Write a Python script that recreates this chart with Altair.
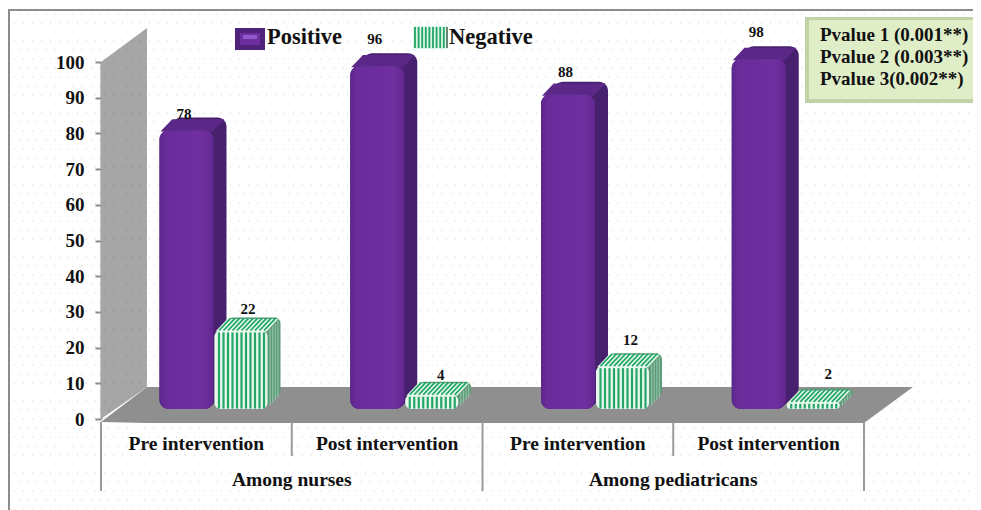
import altair as alt
import numpy as np
import pandas as pd

# ---- data ----
categories = ["Pre intervention", "Post intervention", "Pre intervention", "Post intervention"]
groups = ["Among nurses", "Among pediatricans"]
positive = [78, 96, 88, 98]
negative = [22, 4, 12, 2]
pvalues = ["Pvalue 1 (0.001**)", "Pvalue 2 (0.003**)", "Pvalue 3(0.002**)"]
y_ticks = list(range(0, 101, 10))
legend_names = ["Positive", "Negative"]

# ---- layout helpers (plot area: x 101..864, y 62..419 on the page) ----
L, T, W, H = 101, 62, 763, 357
UX, UY = W / 4, H / 100
px = lambda p: (p - L) / UX
py = lambda p: (T + H - p) / UY
BASE = 10 / UY          # bars stand in front of the wall
DX, DY = 13 / UX, 13 / UY
SERIF = "Liberation Serif"
sx = alt.Scale(domain=[0, 4], nice=False, zero=False)
sy = alt.Scale(domain=[0, 100], nice=False, zero=False)
yaxis = alt.Axis(
    values=y_ticks, labelFont=SERIF, labelFontWeight="bold", labelFontSize=19, labelColor="#111111",
    tickColor="#8c8c8c", tickSize=6, tickWidth=2, domainColor="#8c8c8c", domainWidth=2,
    labelPadding=11, grid=False, title=None)
X = alt.X("x:Q", scale=sx, axis=None)
Y = alt.Y("y:Q", scale=sy, axis=yaxis, stack=None)
X2 = alt.X2("x2:Q")
Y2 = alt.Y2("y2:Q")


def rect(rows, **kw):
    return alt.Chart(pd.DataFrame(rows)).mark_rect(**kw).encode(x=X, x2=X2, y=Y, y2=Y2)


def box(x0, x1, y0, y1, color, **kw):
    return rect([dict(x=px(x0), x2=px(x1), y=py(y0), y2=py(y1))], color=color, **kw)


def area(rows, color):
    return alt.Chart(pd.DataFrame(rows)).mark_area(color=color, interpolate="linear", opacity=1).encode(
        x=X, y=Y, y2=Y2)


def rules(rows, color, width):
    return alt.Chart(pd.DataFrame(rows)).mark_rule(color=color, strokeWidth=width).encode(
        x=X, x2=X2, y=Y, y2=Y2)


def label(rows, size, align="center", color="#111111"):
    return alt.Chart(pd.DataFrame(rows)).mark_text(
        font=SERIF, fontWeight="bold", fontSize=size, align=align, baseline="alphabetic", color=color
    ).encode(x=X, y=Y, text="t:N")


def grad(stops):
    return alt.Gradient(gradient="linear", x1=0, x2=1, y1=0, y2=0,
                        stops=[alt.GradientStop(offset=o, color=c) for o, c in stops])


def top_face(x0, x1, yf, dx, dy):
    yb = yf + dy
    return [
        dict(x=x0, y=yf, y2=yf),
        dict(x=x0 + dx, y=yb, y2=yf),
        dict(x=x1, y=yb, y2=yf),
        dict(x=x1 + dx, y=yb, y2=yb),
    ]


def bars(values, start, width, side, top, front, radius):
    ext, fr, tops = [], [], []
    for i, v in enumerate(values):
        x0, x1 = i + start, i + start + width
        for s in range(0, 14):
            f = s / 13
            ext.append(dict(x=x0 + f * DX, x2=x1 + f * DX, y=v + BASE + f * DY, y2=BASE + f * DY))
        fr.append(dict(x=x0, x2=x1, y=v + BASE, y2=BASE))
        tops.append(area(top_face(x0 + 1 / UX, x1 - 1 / UX, v + BASE - 1 / UY, DX * 0.9, DY * 0.95), top))
    return [rect(ext, color=side, cornerRadius=radius)] + tops + [rect(fr, color=front, cornerRadius=radius)]


layers = []

# left wall
wall = [
    dict(x=0, y=100, y2=0),
    dict(x=px(147), y=py(28), y2=py(387)),
]
layers.append(area(wall, "#a6a6a6"))

# paper dots
gx, gy = np.meshgrid(np.arange(10, 981, 9.0), np.arange(14, 510, 9.0))
gx = gx + (np.arange(gx.shape[0]).reshape(-1, 1) % 2) * 4.5
dots = pd.DataFrame({"x": px(gx.ravel()), "y": py(gy.ravel())})
layers.append(alt.Chart(dots).mark_circle(size=2.2, color="#000000", opacity=0.13).encode(x=X, y=Y))

# floor
floor = [
    dict(x=px(101), y=py(422), y2=py(422)),
    dict(x=px(147), y=py(387), y2=py(423)),
    dict(x=px(864), y=py(387), y2=py(423)),
    dict(x=px(913), y=py(387), y2=py(387)),
]
layers.append(area(floor, "#8f8f8f"))

# frame
layers.append(rules([dict(x=px(8), x2=px(981), y=py(10), y2=py(10)),
                     dict(x=px(9), x2=px(9), y=py(10), y2=py(510))], "#8c8c8c", 2))
# category separators
sep = []
for i in range(5):
    bottom = 491 if i % 2 == 0 else 456
    sep.append(dict(x=i, x2=i, y=py(422), y2=py(bottom)))
layers.append(rules(sep, "#9a9a9a", 2))

# Positive bars
p_start, p_w = 58.5 / UX, 54 / UX
purple = grad([(0, "#5c268c"), (0.12, "#6a2c9a"), (0.8, "#7030a0"), (1, "#612790")])
layers += bars(positive, p_start, p_w, "#47206e", "#5b2888", purple, 9)

# Negative bars
n_start, n_w = 113.5 / UX, 53 / UX
layers += bars(negative, n_start, n_w, "#5d9c79", "#e2f5e9", "#e9f8ef", 6)

front_st, top_st, side_st = [], [], []
for i, v in enumerate(negative):
    x0 = i + n_start
    for k in range(1, 12):
        xs = x0 + k * 4.5 / UX
        front_st.append(dict(x=xs, x2=xs, y=v + BASE - 2 / UY, y2=BASE + 0.4 / UY))
        top_st.append(dict(x=xs, x2=xs + DX * 0.9, y=v + BASE, y2=v + BASE + DY * 0.95))
    for k in range(1, 5):
        f = k / 5
        xs = x0 + n_w + f * DX
        side_st.append(dict(x=xs, x2=xs, y=v + BASE + f * DY - 1 / UY, y2=BASE + f * DY + 1 / UY))
layers.append(rules(side_st, "#8fbfa4", 1.2))
layers.append(rules(top_st, "#1aa562", 1.6))
layers.append(rules(front_st, "#25a566", 2.2))

# value labels
pos_nudge = [-1, 9, 5, 9]
neg_nudge = [3, 2, 8, 10]
neg_shift = [0, 2, 1, 8]
val = []
for i, v in enumerate(positive):
    val.append(dict(x=i + px(L + 83), y=v + BASE + DY + pos_nudge[i] / UY, t=str(v)))
for i, v in enumerate(negative):
    val.append(dict(x=i + px(L + 147 + neg_shift[i]), y=v + BASE + DY + neg_nudge[i] / UY, t=str(v)))
layers.append(label(val, 15))

# axis texts
layers.append(label([dict(x=i + 0.5, y=py(450), t=c) for i, c in enumerate(categories)], 19.5))
layers.append(label([dict(x=2 * i + 1, y=py(486), t=g) for i, g in enumerate(groups)], 19.5))

# legend
layers.append(box(235, 265, 28, 50, "#4f2379"))
layers.append(box(240, 260, 33, 45, "#6d2f9f"))
layers.append(box(243, 257, 35, 39, "#9058c8"))
layers.append(box(413, 448, 26, 49, "#dff5e8"))
stripes = [dict(x=px(p), x2=px(p), y=py(27), y2=py(48)) for p in np.arange(415, 447, 3.6)]
layers.append(rules(stripes, "#1fa564", 1.8))
layers.append(rules([dict(x=px(447), x2=px(447), y=py(27), y2=py(48))], "#3f5f50", 1.5))
layers.append(label([dict(x=px(267), y=py(44), t=legend_names[0]),
                     dict(x=px(449), y=py(44), t=legend_names[1])], 22.5, align="left"))

# p-value box
layers.append(box(805, 981, 17, 103, "#c3d1a6"))
layers.append(box(809, 981, 20, 99, "#e0eec8"))
layers.append(label([dict(x=px(820), y=py(41 + 22 * i), t=t) for i, t in enumerate(pvalues)], 19, align="left"))

chart = alt.layer(*layers).properties(
    width=W, height=H, background="white",
    padding={"left": L - 8, "top": T - 8, "right": 973 - (L + W), "bottom": 510 - (T + H)},
    autosize=alt.AutoSizeParams(type="none"),
).configure_view(stroke=None)

chart.save("out.html", embed_options={"renderer": "svg", "actions": False})
